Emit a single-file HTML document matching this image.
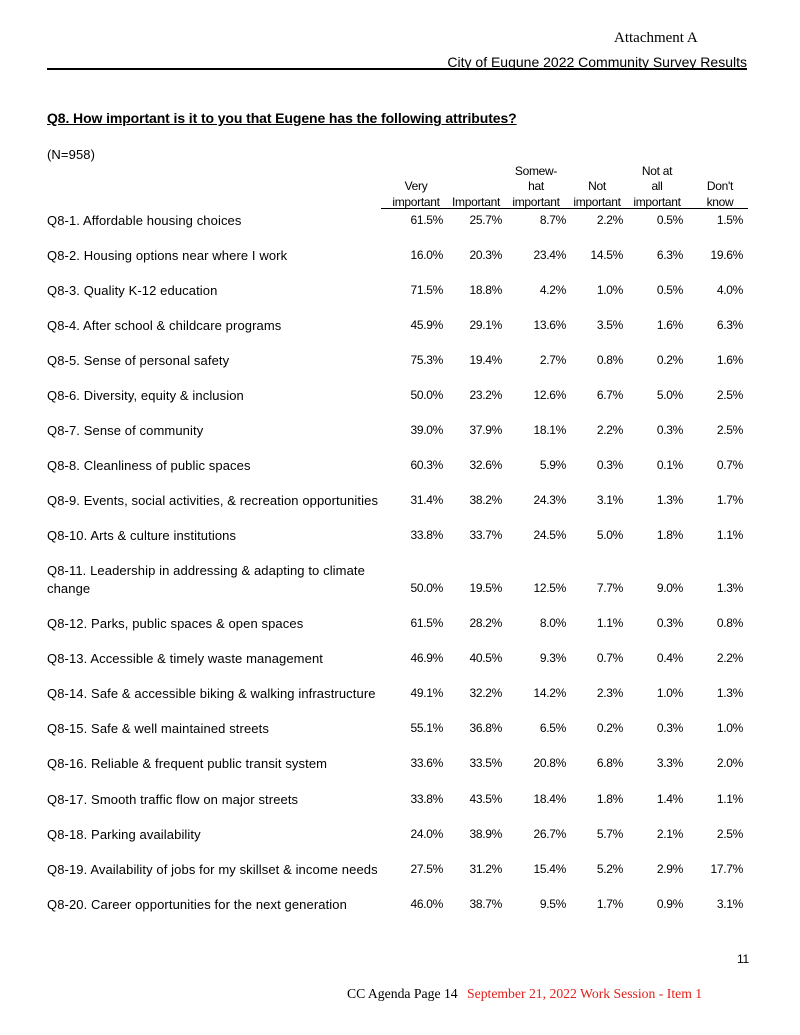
<!DOCTYPE html>
<html><head><meta charset="utf-8"><style>
body{margin:0;background:#fff;}
#p{position:relative;width:800px;height:1035px;font-family:"Liberation Sans",sans-serif;font-size:12px;color:#000;letter-spacing:-0.3px;}
.a{position:absolute;white-space:nowrap;line-height:14px;}
.l{font-size:13px;letter-spacing:0.1px;}
.n{position:absolute;white-space:nowrap;line-height:14px;text-align:right;width:60px;}
.h{position:absolute;white-space:nowrap;line-height:15px;text-align:center;width:70px;}
.s{font-family:"Liberation Serif",serif;letter-spacing:0;font-size:14px;}
</style></head><body><div id="p">
<div class="a s" style="left:614px;top:31px;font-size:15px;">Attachment A</div>
<div class="a" style="right:53px;top:55px;font-size:14px;letter-spacing:0;">City of Eugune 2022 Community Survey Results</div>
<div style="position:absolute;left:47px;top:68px;width:700px;height:1.5px;background:#000;"></div>
<div class="a" style="left:47px;top:111px;font-weight:bold;text-decoration:underline;font-size:14px;letter-spacing:-0.1px;">Q8. How important is it to you that Eugene has the following attributes?</div>
<div class="a l" style="left:47px;top:148px;">(N=958)</div>
<div class="h" style="left:501px;top:164px;">Somew-</div>
<div class="h" style="left:622px;top:164px;">Not at</div>
<div class="h" style="left:381px;top:179px;">Very</div>
<div class="h" style="left:501px;top:179px;">hat</div>
<div class="h" style="left:562px;top:179px;">Not</div>
<div class="h" style="left:622px;top:179px;">all</div>
<div class="h" style="left:685px;top:179px;">Don't</div>
<div class="h" style="left:381px;top:195px;">important</div>
<div class="h" style="left:441px;top:195px;">Important</div>
<div class="h" style="left:501px;top:195px;">important</div>
<div class="h" style="left:562px;top:195px;">important</div>
<div class="h" style="left:622px;top:195px;">important</div>
<div class="h" style="left:685px;top:195px;">know</div>
<div style="position:absolute;left:381px;top:208px;width:367px;height:1px;background:#000;"></div>
<div id="rows"></div>
<div class="a" style="left:737px;top:952px;">11</div>
<div class="a s" style="left:347px;top:987px;font-size:13.7px;">CC Agenda Page 14</div>
<div class="a s" style="left:467px;top:987px;font-size:13.7px;color:#e0201b;">September 21, 2022 Work Session - Item 1</div>
</div>
<script>
var d=[
[220,"Q8-1. Affordable housing choices","61.5 25.7 8.7 2.2 0.5 1.5"],
[255,"Q8-2. Housing options near where I work","16.0 20.3 23.4 14.5 6.3 19.6"],
[290,"Q8-3. Quality K-12 education","71.5 18.8 4.2 1.0 0.5 4.0"],
[325,"Q8-4. After school &amp; childcare programs","45.9 29.1 13.6 3.5 1.6 6.3"],
[360,"Q8-5. Sense of personal safety","75.3 19.4 2.7 0.8 0.2 1.6"],
[395,"Q8-6. Diversity, equity &amp; inclusion","50.0 23.2 12.6 6.7 5.0 2.5"],
[430,"Q8-7. Sense of community","39.0 37.9 18.1 2.2 0.3 2.5"],
[465,"Q8-8. Cleanliness of public spaces","60.3 32.6 5.9 0.3 0.1 0.7"],
[500,"Q8-9. Events, social activities, &amp; recreation opportunities","31.4 38.2 24.3 3.1 1.3 1.7"],
[535,"Q8-10. Arts &amp; culture institutions","33.8 33.7 24.5 5.0 1.8 1.1"],
[588,"change","50.0 19.5 12.5 7.7 9.0 1.3"],
[623,"Q8-12. Parks, public spaces &amp; open spaces","61.5 28.2 8.0 1.1 0.3 0.8"],
[658,"Q8-13. Accessible &amp; timely waste management","46.9 40.5 9.3 0.7 0.4 2.2"],
[693,"Q8-14. Safe &amp; accessible biking &amp; walking infrastructure","49.1 32.2 14.2 2.3 1.0 1.3"],
[728,"Q8-15. Safe &amp; well maintained streets","55.1 36.8 6.5 0.2 0.3 1.0"],
[763,"Q8-16. Reliable &amp; frequent public transit system","33.6 33.5 20.8 6.8 3.3 2.0"],
[799,"Q8-17. Smooth traffic flow on major streets","33.8 43.5 18.4 1.8 1.4 1.1"],
[834,"Q8-18. Parking availability","24.0 38.9 26.7 5.7 2.1 2.5"],
[869,"Q8-19. Availability of jobs for my skillset &amp; income needs","27.5 31.2 15.4 5.2 2.9 17.7"],
[904,"Q8-20. Career opportunities for the next generation","46.0 38.7 9.5 1.7 0.9 3.1"]];
var R=[443,502,566,623,683,743],h="";
d.forEach(function(r){var t=r[0]-7;
h+='<div class="a l" style="left:47px;top:'+(t+1)+'px">'+r[1]+'</div>';
r[2].split(" ").forEach(function(v,i){h+='<div class="n" style="left:'+(R[i]-60)+'px;top:'+t+'px">'+v+'%</div>';});});
h+='<div class="a l" style="left:47px;top:564px">Q8-11. Leadership in addressing &amp; adapting to climate</div>';
document.getElementById("rows").innerHTML=h;
</script>
</body></html>
